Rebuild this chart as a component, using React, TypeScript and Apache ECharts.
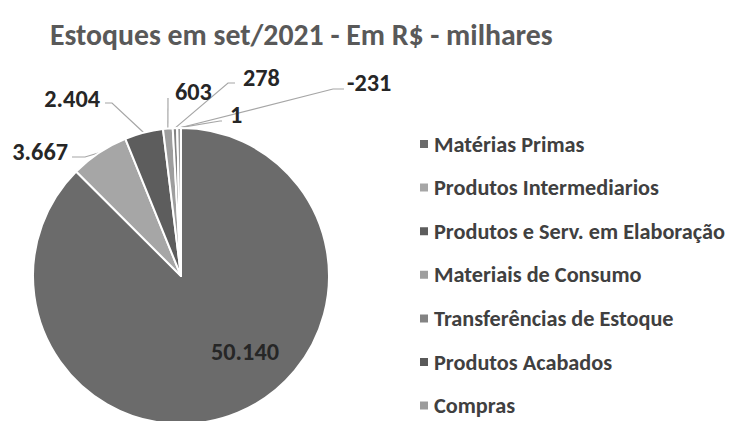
import React, { useEffect, useRef } from 'react';
import * as echarts from 'echarts';

const titleText = 'Estoques em set/2021 - Em R$ - milhares';
const categories = [
  'Matérias Primas',
  'Produtos Intermediarios',
  'Produtos e Serv. em Elaboração',
  'Materiais de Consumo',
  'Transferências de Estoque',
  'Produtos Acabados',
  'Compras',
];
const values = [50140, 3667, 2404, 603, 278, 1, -231];

const colors = ['#6b6b6b', '#a6a6a6', '#5d5d5d', '#9e9e9e', '#838383', '#595959', '#9c9c9c'];

// label placement (layout only): anchor point, alignment, leader line offsets
const labelSpots = [
  { x: 245, y: 352, align: 'center', endDx: 0, elbowDx: 0, dy: 0 },
  { x: 68, y: 152, align: 'right', endDx: 4, elbowDx: 17, dy: 5 },
  { x: 100, y: 99, align: 'right', endDx: 5, elbowDx: 12, dy: 4 },
  { x: 175, y: 92, align: 'left', endDx: -7, elbowDx: -7, dy: 6 },
  { x: 243, y: 78, align: 'left', endDx: -8, elbowDx: -15, dy: 5 },
  { x: 230, y: 115, align: 'left', endDx: -8, elbowDx: -10, dy: 6 },
  { x: 347, y: 83, align: 'left', endDx: -3, elbowDx: -14, dy: 6 },
];

const FONT = 'Carlito, Lato, "Open Sans", sans-serif';

function fitSize(text: string, targetWidth: number): number {
  const ctx = document.createElement('canvas').getContext('2d');
  if (!ctx) return 18;
  ctx.font = `bold 100px ${FONT}`;
  const w = ctx.measureText(text).width;
  return w > 0 ? (100 * targetWidth) / w : 18;
}

function fmt(v: number): string {
  const s = Math.abs(v).toString().replace(/\B(?=(\d{3})+(?!\d))/g, '.');
  return (v < 0 ? '-' : '') + s;
}

export default function App() {
  const ref = useRef<HTMLDivElement>(null);
  useEffect(() => {
    if (!ref.current) return;
    const chart = echarts.init(ref.current, undefined, { renderer: 'svg' });
    const titleSize = fitSize(titleText, 503);
    const legendSize = fitSize('Produtos e Serv. em Elaboração', 291);
    const labelSize = fitSize('50.140', 68);
    const data = categories.map((name, i) => ({
      name,
      value: Math.abs(values[i]),
      itemStyle: { color: colors[i] },
      label: i === 0 ? { position: 'inside' } : undefined,
      labelLine: i === 0 ? { show: false } : undefined,
    }));
    chart.setOption({
      animation: false,
      backgroundColor: '#ffffff',
      title: {
        text: titleText,
        left: 45,
        top: 15,
        textStyle: { fontFamily: FONT, fontSize: titleSize, fontWeight: 'bold', color: '#595959' },
      },
      legend: {
        orient: 'vertical',
        left: 418,
        top: 133,
        height: 340,
        padding: 0,
        itemWidth: 10,
        itemHeight: 10,
        itemGap: 21.6,
        icon: 'rect',
        selectedMode: false,
        data: categories,
        textStyle: {
          fontFamily: FONT,
          fontSize: legendSize,
          fontWeight: 'bold',
          color: '#404040',
        },
      },
      series: [
        {
          type: 'pie',
          center: [181, 276],
          radius: 148,
          startAngle: 90,
          clockwise: true,
          avoidLabelOverlap: false,
          itemStyle: { borderColor: '#ffffff', borderWidth: 2 },
          label: {
            show: true,
            position: 'outside',
            fontFamily: FONT,
            fontSize: labelSize,
            fontWeight: 'bold',
            color: '#262626',
            formatter: (p: any) => fmt(values[p.dataIndex]),
          },
          labelLine: {
            show: true,
            length: 10,
            length2: 10,
            lineStyle: { color: '#a6a6a6', width: 1.2 },
          },
          labelLayout: (params: any) => {
            const s = labelSpots[params.dataIndex];
            const res: any = { x: s.x, y: s.y, align: s.align, verticalAlign: 'middle' };
            if (params.dataIndex > 0 && params.labelLinePoints && params.labelLinePoints[0]) {
              const edge = params.labelLinePoints[0];
              const y = s.y + s.dy;
              res.labelLinePoints = [
                [edge[0], edge[1]],
                [s.x + s.elbowDx, y],
                [s.x + s.endDx, y],
              ];
            }
            return res;
          },
          emphasis: { disabled: true },
          data,
        },
      ],
    });
    return () => chart.dispose();
  }, []);
  return (
    <div
      ref={ref}
      style={{ position: 'fixed', left: 0, top: 0, width: 731, height: 421, background: '#fff' }}
    />
  );
}
